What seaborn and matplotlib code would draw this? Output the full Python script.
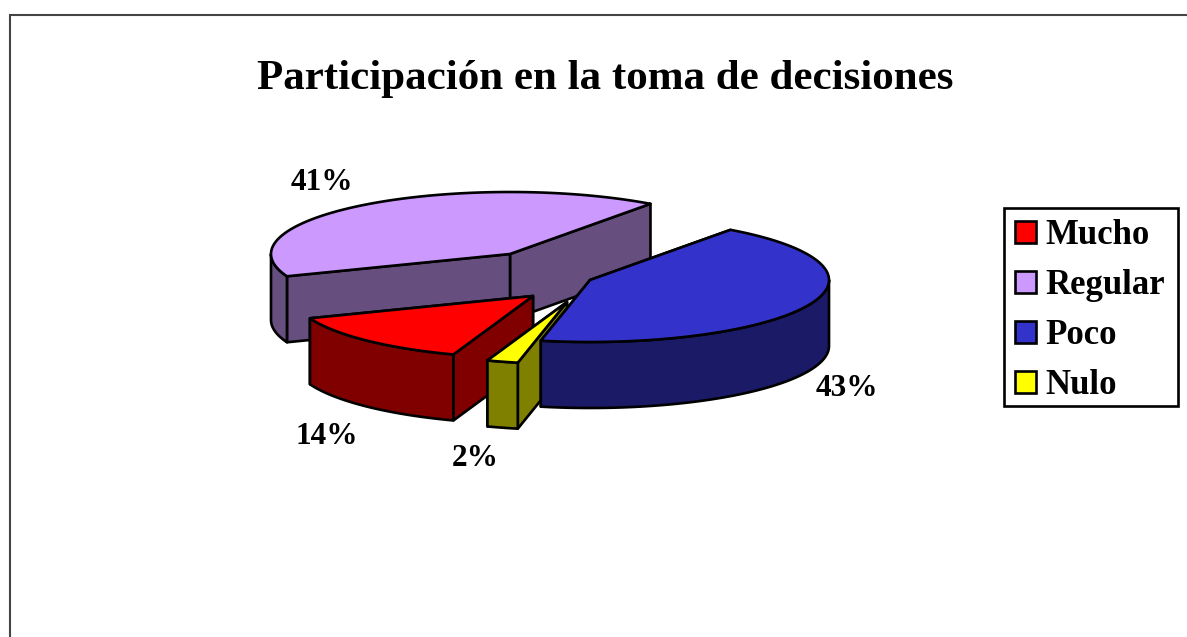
import numpy as np
import matplotlib
matplotlib.use("Agg")
import matplotlib.pyplot as plt
from matplotlib.patches import Patch, Rectangle
import seaborn as sns

title = "Participación en la toma de decisiones"
categories = ["Mucho", "Regular", "Poco", "Nulo"]
values = [13.75, 40.85, 43.3, 2.1]
top_colors = ["#FF0000", "#CC99FF", "#3333CC", "#FFFF00"]
side_colors = ["#800000", "#664F7F", "#1A1A66", "#808000"]

# layout of the exploded 3D pie, in pixels
centers = {"Mucho": (533, 296), "Regular": (510, 254), "Poco": (590, 280), "Nulo": (567, 302)}
label_pos = {"Mucho": (327, 436), "Regular": (322, 182), "Poco": (847, 388), "Nulo": (475, 458)}
RX, RY, DEPTH = 239, 62, 66
START_ANGLE = 54
LW = 1.9

sns.set_theme(style="white")
plt.rcParams["font.family"] = ["Liberation Serif", "DejaVu Serif"]
plt.rcParams["font.weight"] = "bold"
palette = dict(zip(categories, sns.color_palette(top_colors)))
shades = dict(zip(categories, sns.color_palette(side_colors)))

fig = plt.figure(figsize=(11.87, 6.37), dpi=100, facecolor="white")
ax = fig.add_axes([0, 0, 1, 1])
ax.set_xlim(0, 1187)
ax.set_ylim(637, 0)
ax.axis("off")

ax.plot([9.5, 9.5, 1187], [637, 15, 15], color="#444444", lw=1.5, solid_joinstyle="miter", zorder=1)

# clockwise order of the slices from the start angle
order = ["Poco", "Nulo", "Mucho", "Regular"]
angles = {}
a = START_ANGLE
for name in order:
    v = values[categories.index(name)]
    angles[name] = (a - v * 3.6, a)
    a -= v * 3.6


def arc(cx, cy, t0, t1, dy=0.0):
    t = np.radians(np.linspace(t0, t1, 120))
    return cx + RX * np.cos(t), cy - RY * np.sin(t) + dy


def face(xs, ys, color, z):
    ax.fill(xs, ys, facecolor=color, edgecolor="black", lw=LW, joinstyle="round", zorder=z)


z = 2
for name in ["Regular", "Mucho", "Nulo", "Poco"]:
    cx, cy = centers[name]
    t0, t1 = angles[name]
    top, side = palette[name], shades[name]
    # radial walls
    for t in (t0, t1):
        ex, ey = arc(cx, cy, t, t)
        ex, ey = ex[0], ey[0]
        face([cx, ex, ex, cx], [cy, ey, ey + DEPTH, cy + DEPTH], side, z)
    # outer wall: only the part of the rim that faces the viewer
    k0 = np.floor(t0 / 360) * 360
    lo, hi = max(t0 - k0, 180), min(t1 - k0, 360)
    if lo < hi:
        x1, y1 = arc(cx, cy, lo, hi)
        x2, y2 = arc(cx, cy, hi, lo, DEPTH)
        face(np.r_[x1, x2], np.r_[y1, y2], side, z + 0.1)
    # top face
    xa, ya = arc(cx, cy, t0, t1)
    face(np.r_[cx, xa], np.r_[cy, ya], top, z + 0.2)
    z += 1

for name, v in zip(categories, values):
    x, y = label_pos[name]
    ax.text(x, y, f"{round(v)}%", ha="center", va="center", fontsize=22.5, fontweight="bold", color="black", zorder=10)

ax.text(605, 79, title, ha="center", va="center", fontsize=31, fontweight="bold", color="black", zorder=10)

ax.add_patch(Rectangle((1004, 208), 174, 198, facecolor="white", edgecolor="black", lw=1.9, zorder=9))
handles = [Patch(facecolor=palette[c], edgecolor="black", lw=1.9, label=c) for c in categories]
leg = ax.legend(handles=handles, loc="upper left", bbox_to_anchor=(1004, 208), bbox_transform=ax.transData,
                borderaxespad=0, prop={"size": 25, "weight": "bold"}, labelcolor="black", frameon=False,
                handlelength=0.6, handleheight=0.6, handletextpad=0.26, labelspacing=0.49, borderpad=0.32)
leg.set_zorder(10)

fig.savefig("out.png", dpi=100, facecolor="white")
